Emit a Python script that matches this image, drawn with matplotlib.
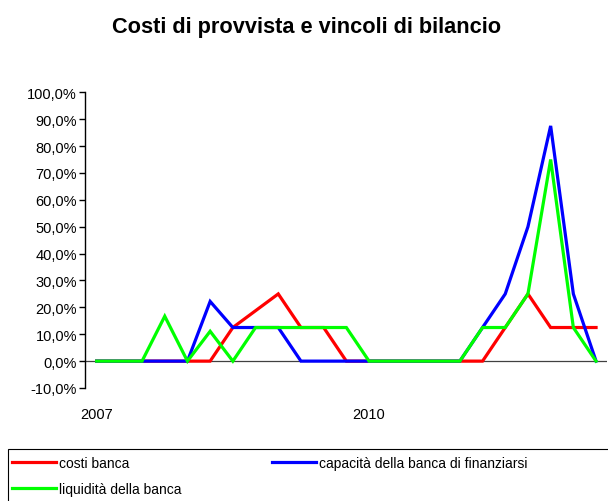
import matplotlib
matplotlib.use("Agg")
import matplotlib.pyplot as plt
from matplotlib.patches import Rectangle
from matplotlib.ticker import FuncFormatter

# quarterly periods, 2007 Q1 .. 2012 Q3
periodi = [f"{2007 + i // 4} T{i % 4 + 1}" for i in range(23)]
etichette_x = {0: "2007", 12: "2010"}

costi_banca = [0, 0, 0, 0, 0, 0, 12.5, 18.75, 25, 12.5, 12.5, 0,
               0, 0, 0, 0, 0, 0, 12.5, 25, 12.5, 12.5, 12.5]
capacita_finanziarsi = [0, 0, 0, 0, 0, 22.2, 12.5, 12.5, 12.5, 0, 0, 0,
                        0, 0, 0, 0, 0, 12.5, 25, 50, 87.5, 25, 0]
liquidita_banca = [0, 0, 0, 16.7, 0, 11.1, 0, 12.5, 12.5, 12.5, 12.5, 12.5,
                   0, 0, 0, 0, 0, 12.5, 12.5, 25, 75, 12.5, 0]

plt.rcParams["font.family"] = ["Liberation Sans", "DejaVu Sans"]

W, H = 608, 502
fig = plt.figure(figsize=(W / 100, H / 100), dpi=100)
ax = fig.add_axes([85.3 / W, 1 - 389 / H, (607.4 - 85.3) / W, (389 - 93.3) / H])

x = list(range(len(periodi)))
l_r, = ax.plot(x, costi_banca, color="#FF0000", lw=2.3, solid_joinstyle="miter")
l_b, = ax.plot(x, capacita_finanziarsi, color="#0000FF", lw=2.3, solid_joinstyle="miter")
l_g, = ax.plot(x, liquidita_banca, color="#00FF00", lw=2.3, solid_joinstyle="miter")

ax.axhline(0, color="#404040", lw=0.9, zorder=1)
ax.set_xlim(-0.5, len(periodi) - 0.5)
ax.set_ylim(-10, 100)
ax.set_yticks(range(-10, 101, 10))
ax.yaxis.set_major_formatter(FuncFormatter(lambda v, p: f"{v:.1f}%".replace(".", ",")))
ax.set_xticks(list(etichette_x.keys()))
ax.set_xticklabels(list(etichette_x.values()))

for s in ["top", "right", "bottom"]:
    ax.spines[s].set_visible(False)
ax.spines["left"].set_linewidth(1.0)
ax.tick_params(axis="y", length=4, width=1.0, labelsize=10.5, pad=2)
ax.tick_params(axis="x", length=0, labelsize=10.5, pad=14)

fig.text(307 / W, 1 - 28 / H, "Costi di provvista e vincoli di bilancio",
         ha="center", va="center", fontsize=15.7, fontweight="bold")

# legend box (runs off the right and bottom edge like the original)
fig.patches.append(Rectangle((8 / W, -0.02), 1.0, 1 - 450 / H + 0.02,
                             transform=fig.transFigure, fill=False,
                             edgecolor="black", lw=0.8))
fig.legend([l_r, l_g, l_b],
           ["costi banca", "liquidità della banca", "capacità della banca di finanziarsi"],
           loc="upper left", bbox_to_anchor=(6 / W, 1 - 451 / H), ncol=2,
           frameon=False, fontsize=10, handlelength=3.2, handletextpad=0.2,
           columnspacing=6.5, labelspacing=0.9, borderaxespad=0)

fig.savefig("out.png", dpi=100)
